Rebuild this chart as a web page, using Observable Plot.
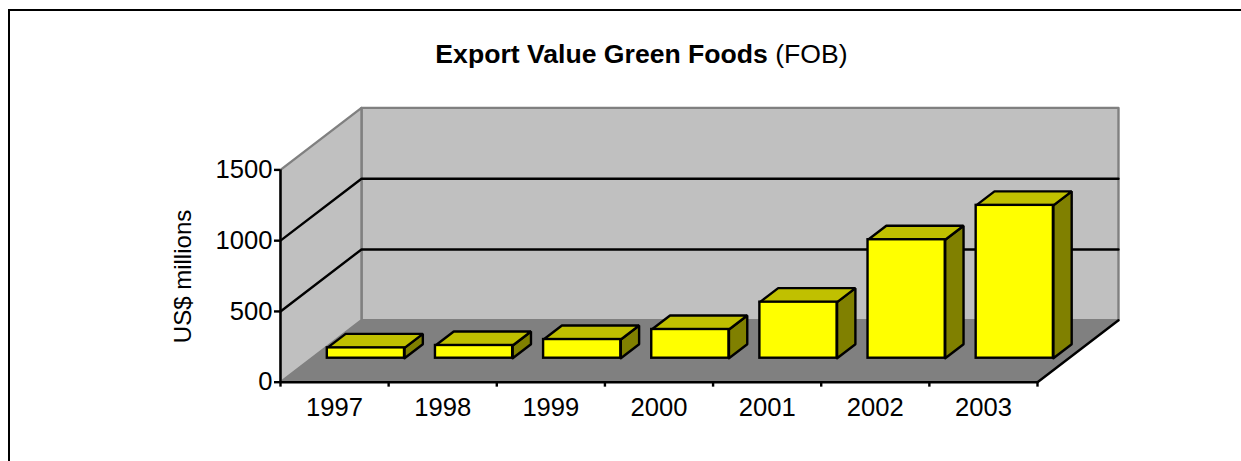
<!DOCTYPE html>
<html><head><meta charset="utf-8">
<script src="https://cdn.jsdelivr.net/npm/d3@7"></script>
<script src="https://cdn.jsdelivr.net/npm/@observablehq/plot@0.6"></script>
<style>
html,body{margin:0;padding:0;background:#fff;overflow:hidden}
#frame{position:absolute;left:8px;top:9px;width:1233px;height:452px;border:solid #000;border-width:2px 0 0 2px;box-sizing:border-box;background:#fff}
#title{position:absolute;left:0;top:39px;width:1241px;text-align:center;font:26.6px "Liberation Sans",Arial,sans-serif;color:#000;margin:0;white-space:pre}
#title span{position:relative;left:21px}
#chart{position:absolute;left:0;top:85px}
svg{display:block}
</style></head><body>
<div id="frame"></div>
<h1 id="title" style="font-weight:normal"><span><b>Export Value Green Foods</b> (FOB)</span></h1>
<div id="chart"></div>
<script>
const years = ["1997","1998","1999","2000","2001","2002","2003"];
const exportsUSD = [73, 90, 132, 203, 396, 837, 1080];
const yTicks = [0, 500, 1000, 1500];
const yMax = 1500;

// oblique projection of the chart's depth axis into the x and y data units
const depthX = 0.749, depthY = 438;
const P = (x, v, d) => ({x: x + d * depthX, y: v + d * depthY});
const poly = (id, ...pts) => [...pts, pts[0]].map(([x, v, d]) => ({id, ...P(x, v, d)}));
const barL = 0.143, barR = 0.857, d0 = 0.387, d1 = 0.613;
const n = years.length;
const bars = exportsUSD.map((v, i) => ({i, v, x1: i + barL, x2: i + barR}));

const frontFace = bars.map(b => ({x1: P(b.x1, 0, d0).x, x2: P(b.x2, 0, d0).x, y1: P(0, 0, d0).y, y2: P(0, b.v, d0).y}));
const topFace = bars.flatMap(b => poly(b.i, [b.x1, b.v, d0], [b.x2, b.v, d0], [b.x2, b.v, d1], [b.x1, b.v, d1]));
const sideFace = bars.flatMap(b => poly(b.i, [b.x2, 0, d0], [b.x2, b.v, d0], [b.x2, b.v, d1], [b.x2, 0, d1]));
const backWall = poly("back", [0, 0, 1], [n, 0, 1], [n, yMax, 1], [0, yMax, 1]);
const leftWall = poly("left", [0, 0, 0], [0, 0, 1], [0, yMax, 1], [0, yMax, 0]);
const floor = poly("floor", [0, 0, 0], [n, 0, 0], [n, 0, 1], [0, 0, 1]);
const grid = yTicks.slice(1, -1).flatMap(v => [
  {id: v, ...P(0, v, 0)}, {id: v, ...P(0, v, 1)}, {id: v, ...P(n, v, 1)}
]);
const lineOpts = {x: "x", y: "y", z: "id", curve: "linear"};
const ink = {stroke: "#000", strokeWidth: 2.4};

const plot = Plot.plot({
  width: 1241, height: 376,
  marginLeft: 280, marginRight: 204, marginTop: 84.4, marginBottom: 79.3,
  x: {type: "linear", domain: [0, n], axis: null},
  y: {type: "linear", domain: [0, yMax], axis: null},
  style: {fontFamily: '"Liberation Sans",Arial,sans-serif', background: "transparent", overflow: "visible"},
  marks: [
    Plot.line(backWall, {...lineOpts, fill: "#c0c0c0", stroke: "#808080", strokeWidth: 2.4}),
    Plot.line(leftWall, {...lineOpts, fill: "#c0c0c0", stroke: "#808080", strokeWidth: 2.4}),
    Plot.line(floor, {...lineOpts, fill: "#808080", stroke: "#808080", strokeWidth: 1}),
    Plot.line(grid, {...lineOpts, ...ink}),
    Plot.line([P(n, 0, 0), P(n, 0, 1)], {x: "x", y: "y", ...ink}),
    Plot.line(sideFace, {...lineOpts, fill: "#808000", ...ink, strokeLinejoin: "miter"}),
    Plot.line(topFace, {...lineOpts, fill: "#c0c000", ...ink, strokeLinejoin: "miter"}),
    Plot.rect(frontFace, {x1: "x1", x2: "x2", y1: "y1", y2: "y2", fill: "#ffff00", ...ink}),
    Plot.ruleX([0], {y1: 0, y2: yMax, ...ink}),
    Plot.ruleY([0], {x1: 0, x2: n, ...ink}),
    Plot.axisY(yTicks, {anchor: "left", tickSize: 6, tickPadding: 2, ...ink, fontSize: 25.6, label: null, color: "#000", tickFormat: d => String(d)}),
    Plot.ruleX(d3.range(n + 1), {x: d => d, y1: 0, y2: -35, ...ink}),
    Plot.text(years, {x: (d, i) => i + 0.5, y: 0, dy: 26, text: d => d, fontSize: 25.6, fill: "#000"}),
    Plot.text(["US$ millions"], {frameAnchor: "left", rotate: -90, dx: -97, y: 276, fontSize: 24, fill: "#000"})
  ]
});
document.getElementById("chart").appendChild(plot);
</script></body></html>
